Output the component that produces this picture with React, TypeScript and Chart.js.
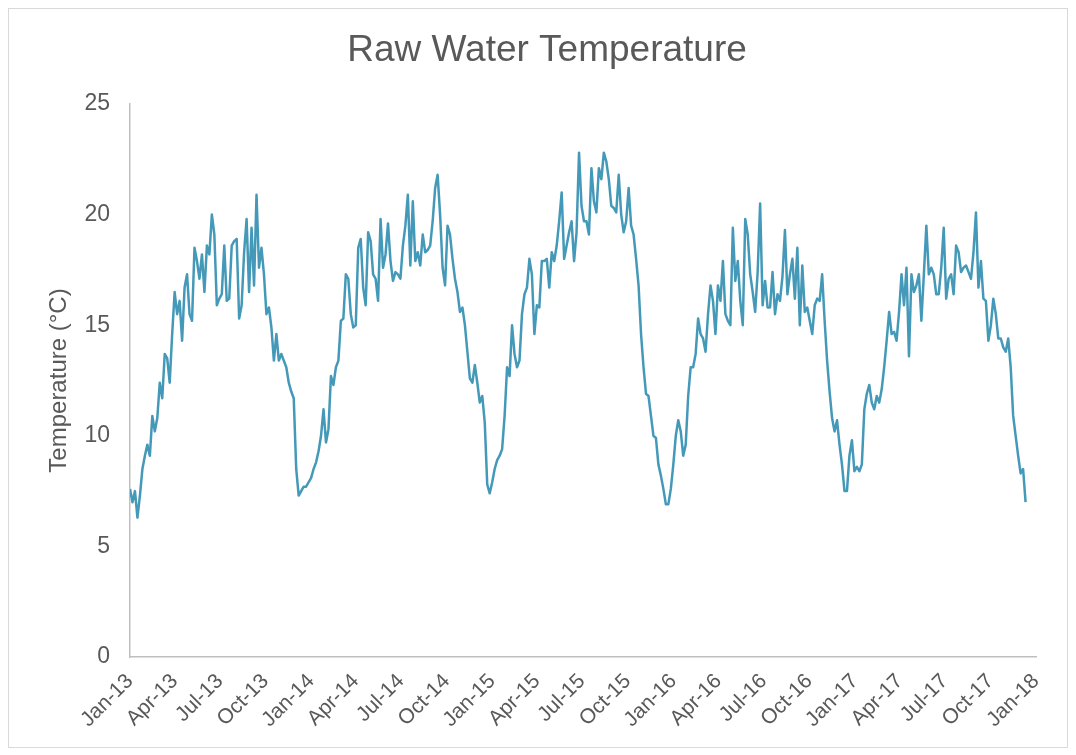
import React, { useEffect, useRef } from 'react';
import { Chart, registerables } from 'chart.js';

Chart.register(...registerables);

// Series starts 1 Jan 2013, one reading every 5 days
const seriesStartUTC = Date.UTC(2013, 0, 1);
const stepDays = 5;

const temps2013 = [
  7.6, 7.0, 7.5, 6.3, 7.3, 8.5, 9.1, 9.6, 9.1, 10.9,
  10.2, 10.8, 12.4, 11.7, 13.7, 13.5, 12.4, 14.6, 16.5, 15.5,
  16.1, 14.3, 16.7, 17.3, 15.5, 15.2, 18.5, 17.9, 17.1, 18.2,
  16.5, 18.6, 18.2, 20.0, 19.1, 15.9, 16.2, 16.4, 18.6, 16.1,
  16.2, 18.6, 18.8, 18.9, 15.3, 15.9, 18.3, 19.8, 16.5, 19.4,
  16.8, 20.9, 17.6, 18.5, 17.3, 15.5, 15.8, 14.9, 13.4, 14.6,
  13.4, 13.7, 13.4, 13.1, 12.4, 12.0, 11.7, 8.5, 7.3, 7.5,
  7.7, 7.7, 7.9,
];
const temps2014 = [
  8.1, 8.5, 8.8, 9.3, 10.0, 11.2, 9.7, 10.3, 12.7, 12.3,
  13.1, 13.4, 15.2, 15.3, 17.3, 17.1, 15.5, 14.9, 15.0, 18.5,
  18.9, 16.7, 15.9, 19.2, 18.8, 17.3, 17.1, 16.1, 19.8, 17.6,
  18.2, 19.6, 17.9, 17.0, 17.4, 17.3, 17.1, 18.6, 19.5, 20.9,
  17.7, 20.6, 17.9, 18.3, 17.7, 19.1, 18.3, 18.4, 18.6, 19.7,
  21.2, 21.8, 20.0, 17.6, 16.8, 19.5, 19.1, 18.0, 17.1, 16.5,
  15.6, 15.8, 15.0, 13.8, 12.6, 12.4, 13.2, 12.4, 11.5, 11.8,
  10.6, 7.8, 7.4,
];
const temps2015 = [
  7.9, 8.5, 8.9, 9.1, 9.4, 10.9, 13.1, 12.7, 15.0, 13.7,
  13.1, 13.4, 15.5, 16.4, 16.7, 18.0, 17.3, 14.6, 15.9, 15.8,
  17.9, 17.9, 18.0, 16.7, 18.3, 17.9, 18.6, 19.7, 21.0, 18.0,
  18.6, 19.2, 19.7, 17.9, 19.2, 22.8, 20.4, 19.7, 19.7, 19.1,
  22.1, 20.6, 20.1, 22.1, 21.6, 22.8, 22.4, 21.6, 20.4, 20.3,
  20.1, 21.8, 20.0, 19.2, 19.7, 21.2, 19.5, 19.1, 18.0, 16.8,
  14.6, 13.1, 11.9, 11.8, 10.9, 10.0, 9.9, 8.7, 8.2, 7.6,
  6.9, 6.9, 7.6,
];
const temps2016 = [
  8.7, 10.0, 10.7, 10.2, 9.1, 9.6, 11.8, 13.1, 13.1, 13.7,
  15.3, 14.6, 14.4, 13.8, 15.5, 16.8, 16.1, 14.6, 16.8, 16.1,
  17.9, 15.5, 15.2, 15.0, 19.4, 17.0, 17.9, 16.1, 15.0, 19.8,
  19.1, 17.3, 16.5, 15.6, 17.4, 20.5, 15.9, 17.0, 15.8, 15.8,
  17.4, 15.5, 16.4, 16.1, 17.2, 19.3, 16.4, 17.3, 18.0, 16.2,
  18.5, 15.0, 17.7, 15.6, 15.8, 15.2, 14.6, 15.9, 16.2, 16.1,
  17.3, 15.2, 13.4, 12.0, 10.8, 10.2, 10.7, 9.6, 8.7, 7.5,
  7.5, 9.1, 9.8,
];
const temps2017 = [
  8.4, 8.6, 8.4, 8.7, 11.2, 11.9, 12.3, 11.5, 11.2, 11.8,
  11.5, 12.1, 13.1, 14.3, 15.6, 14.6, 14.7, 14.3, 15.6, 17.3,
  15.9, 17.6, 13.6, 17.3, 16.5, 16.8, 17.3, 15.2, 17.3, 19.5,
  17.3, 17.6, 17.3, 16.4, 16.4, 17.6, 19.4, 16.2, 17.1, 17.3,
  16.4, 18.6, 18.3, 17.4, 17.6, 17.7, 17.4, 17.1, 18.3, 20.1,
  16.7, 17.9, 16.2, 16.1, 14.3, 15.0, 16.2, 15.5, 14.4, 14.4,
  14.0, 13.8, 14.4, 13.1, 10.9, 10.0, 9.1, 8.3, 8.5, 7.0,
];

const tickLabels = [
  'Jan-13', 'Apr-13', 'Jul-13', 'Oct-13',
  'Jan-14', 'Apr-14', 'Jul-14', 'Oct-14',
  'Jan-15', 'Apr-15', 'Jul-15', 'Oct-15',
  'Jan-16', 'Apr-16', 'Jul-16', 'Oct-16',
  'Jan-17', 'Apr-17', 'Jul-17', 'Oct-17',
  'Jan-18',
];
const yTickValues = [0, 5, 10, 15, 20, 25];

const chartTitle = 'Raw Water Temperature';
const yAxisTitle = 'Temperature (°C)';

const MONTH_INDEX: Record<string, number> = { Jan: 0, Apr: 3, Jul: 6, Oct: 9 };
function labelToDay(label: string): number {
  const [m, yy] = label.split('-');
  return Math.round((Date.UTC(2000 + Number(yy), MONTH_INDEX[m], 1) - seriesStartUTC) / 86400000);
}

const FONT = '"Liberation Sans", Arial, sans-serif';
const TEXT_COLOR = '#595959';
const AXIS_COLOR = '#BFBFBF';
const LINE_COLOR = '#4599B8';

const titlePlugin = {
  id: 'excelTitle',
  afterDraw(chart: any) {
    const ctx = chart.ctx as CanvasRenderingContext2D;
    ctx.save();
    ctx.font = `37px ${FONT}`;
    ctx.fillStyle = TEXT_COLOR;
    ctx.textAlign = 'center';
    ctx.textBaseline = 'alphabetic';
    ctx.fillText(chartTitle, 538, 52);
    ctx.restore();
  },
};

export default function App() {
  const canvasRef = useRef<HTMLCanvasElement>(null);

  useEffect(() => {
    const temps = [...temps2013, ...temps2014, ...temps2015, ...temps2016, ...temps2017];
    const points = temps.map((v, i) => ({ x: i * stepDays, y: v }));
    const tickDays = tickLabels.map(labelToDay);
    const xMax = tickDays[tickDays.length - 1];

    const chart = new Chart(canvasRef.current as HTMLCanvasElement, {
      type: 'line',
      data: {
        datasets: [
          {
            data: points,
            borderColor: LINE_COLOR,
            borderWidth: 2.5,
            pointRadius: 0,
            tension: 0,
            fill: false,
            borderJoinStyle: 'round',
          },
        ],
      },
      options: {
        animation: false,
        responsive: false,
        layout: { padding: { left: 18, right: 31, top: 95, bottom: 0 } },
        plugins: {
          legend: { display: false },
          tooltip: { enabled: false },
          title: { display: false },
        },
        scales: {
          x: {
            type: 'linear',
            min: 0,
            max: xMax,
            afterBuildTicks: (scale: any) => {
              scale.ticks = tickDays.map((v) => ({ value: v }));
            },
            afterFit: (scale: any) => {
              scale.height = 90;
            },
            ticks: {
              autoSkip: false,
              minRotation: 45,
              maxRotation: 45,
              padding: 12,
              color: TEXT_COLOR,
              font: { family: FONT, size: 21 },
              callback: (value: any) => {
                const idx = tickDays.indexOf(Number(value));
                return idx >= 0 ? tickLabels[idx] : '';
              },
            },
            grid: { display: false, drawTicks: false },
            border: { display: true, color: AXIS_COLOR, width: 1.5 },
          },
          y: {
            min: 0,
            max: 25,
            afterBuildTicks: (scale: any) => {
              scale.ticks = yTickValues.map((v) => ({ value: v }));
            },
            afterFit: (scale: any) => {
              scale.width = 103;
            },
            ticks: {
              padding: 20,
              color: TEXT_COLOR,
              font: { family: FONT, size: 23 },
            },
            grid: { display: false, drawTicks: false },
            border: { display: true, color: AXIS_COLOR, width: 1.5 },
            title: {
              display: true,
              text: yAxisTitle,
              color: TEXT_COLOR,
              font: { family: FONT, size: 24 },
              padding: { top: 18, bottom: 0 },
            },
          },
        },
      },
      plugins: [titlePlugin],
    } as any);

    return () => chart.destroy();
  }, []);

  return (
    <div
      style={{
        width: 1060,
        height: 740,
        border: '1px solid #D9D9D9',
        boxSizing: 'border-box',
        background: '#FFFFFF',
      }}
    >
      <canvas ref={canvasRef} width={1058} height={738} style={{ display: 'block' }} />
    </div>
  );
}
